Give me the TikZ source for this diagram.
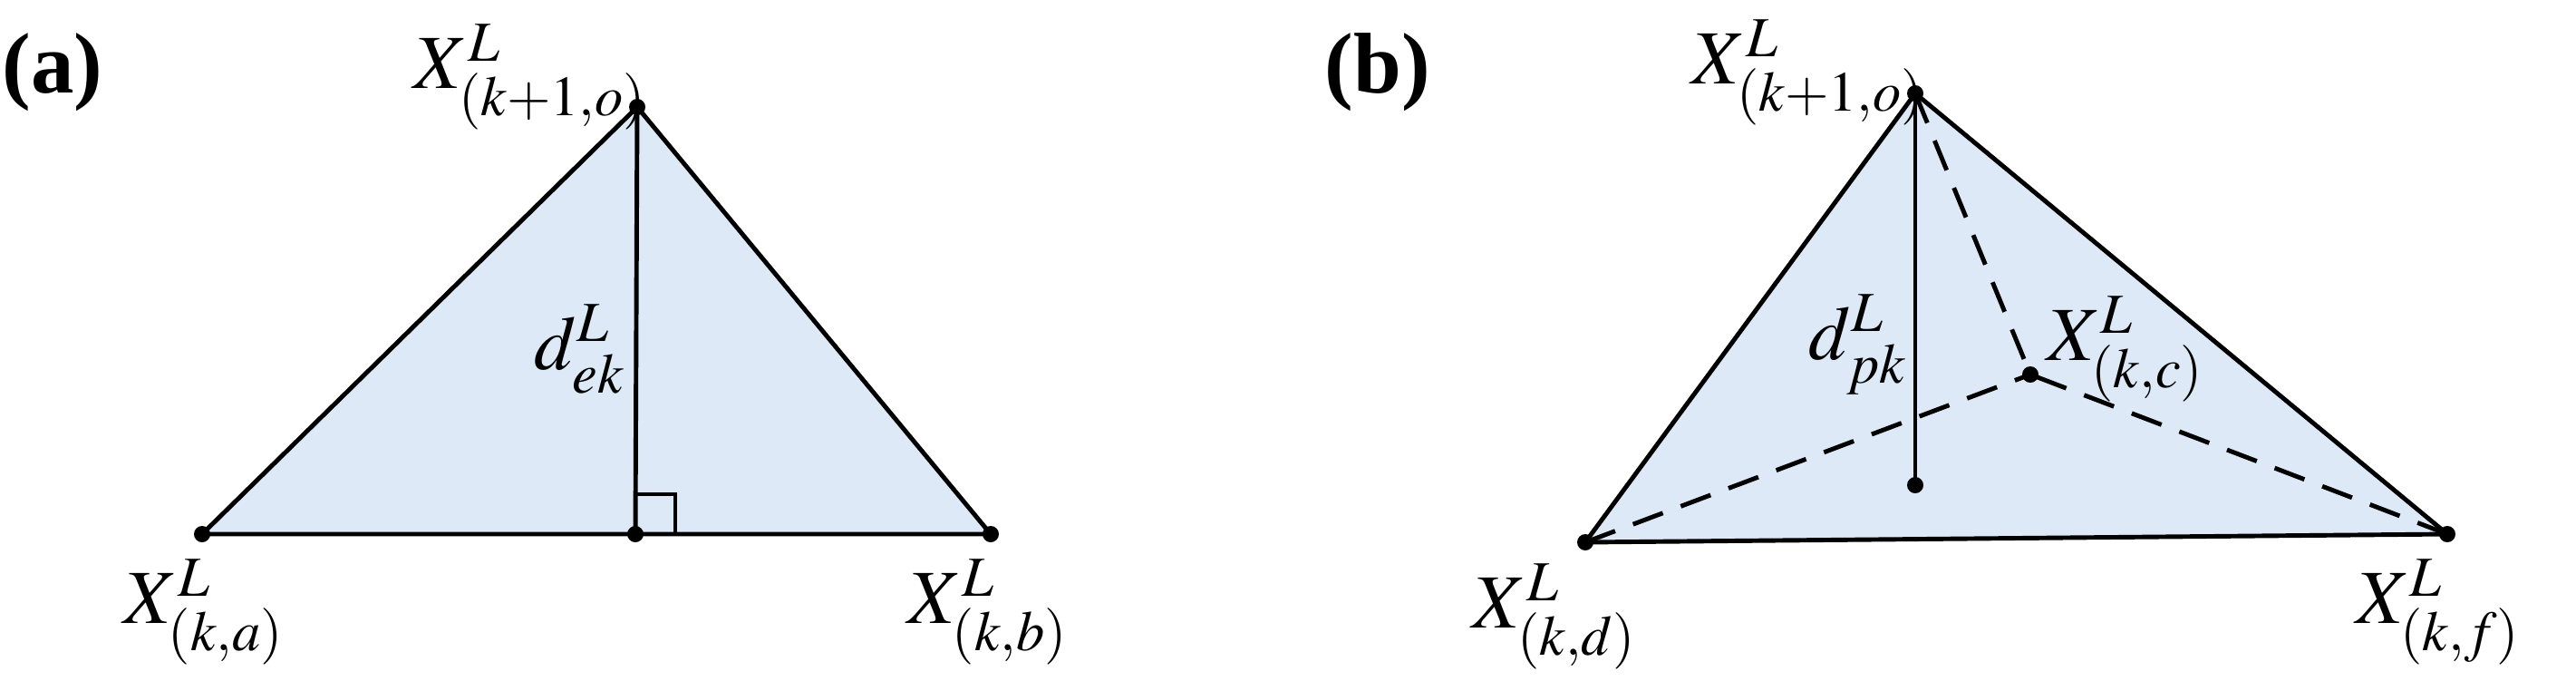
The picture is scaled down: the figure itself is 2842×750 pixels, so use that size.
\documentclass[tikz,border=0pt]{standalone}
\usepackage{mathptmx}
\usepackage{fontspec}
\setmainfont{Liberation Serif}
\newfontfamily\panelfont{Liberation Serif}
\begin{document}
\begin{tikzpicture}[x=0.01cm,y=-0.01cm,
  edge/.style={line width=1.4pt},
  dsh/.style={line width=1.4pt,dash pattern=on 10pt off 6pt},
  lbl/.style={font=\fontsize{24}{26}\selectfont},
  plbl/.style={font=\panelfont\fontsize{27}{29}\selectfont\bfseries},
  dot/.style={circle,fill=black,inner sep=0pt,minimum size=0.18cm}]
\useasboundingbox (0,0) rectangle (2842,750);
\definecolor{tri}{HTML}{DDE9F6}
% panel a
\coordinate (at) at (703,118);
\coordinate (aa) at (223,589);
\coordinate (am) at (701,589);
\coordinate (ab) at (1093,589);
\fill[tri] (at) -- (aa) -- (ab) -- cycle;
\draw[edge] (at) -- (aa) -- (ab) -- cycle;
\draw[edge] (at) -- (am);
\draw[edge] (701,545) -- (745,545) -- (745,589);
\node[dot] (nat) at (at) {};
\node[dot] (naa) at (aa) {};
\node[dot] (nam) at (am) {};
\node[dot] (nab) at (ab) {};
\node[plbl] (la) at (58,80) {(a)};
\node[lbl] (lat) at (585,85) {$X^{L}_{(k+1,o)}$};
\node[lbl] (lad) at (640,385) {$d^{L}_{ek}$};
\node[lbl] (laa) at (225,675) {$X^{L}_{(k,a)}$};
\node[lbl] (lab) at (1090,675) {$X^{L}_{(k,b)}$};
% panel b
\coordinate (bt) at (2113,103);
\coordinate (bd) at (1749,598);
\coordinate (bf) at (2700,589);
\coordinate (bc) at (2240,413);
\coordinate (bp) at (2113,535);
\fill[tri] (bt) -- (bd) -- (bf) -- cycle;
\draw[edge] (bt) -- (bd) -- (bf) -- cycle;
\draw[dsh] (bt) -- (bc);
\draw[dsh] (bd) -- (bc);
\draw[dsh] (bf) -- (bc);
\draw[edge] (bt) -- (bp);
\node[dot] (nbt) at (bt) {};
\node[dot] (nbd) at (bd) {};
\node[dot] (nbf) at (bf) {};
\node[dot] (nbc) at (bc) {};
\node[dot] (nbp) at (bp) {};
\node[plbl] (lb) at (1520,80) {(b)};
\node[lbl] (lbt) at (1995,80) {$X^{L}_{(k+1,o)}$};
\node[lbl] (lbd2) at (2050,380) {$d^{L}_{pk}$};
\node[lbl] (lbc) at (2345,385) {$X^{L}_{(k,c)}$};
\node[lbl] (lbd) at (1715,680) {$X^{L}_{(k,d)}$};
\node[lbl] (lbf) at (2690,675) {$X^{L}_{(k,f)}$};
\end{tikzpicture}
\end{document}
